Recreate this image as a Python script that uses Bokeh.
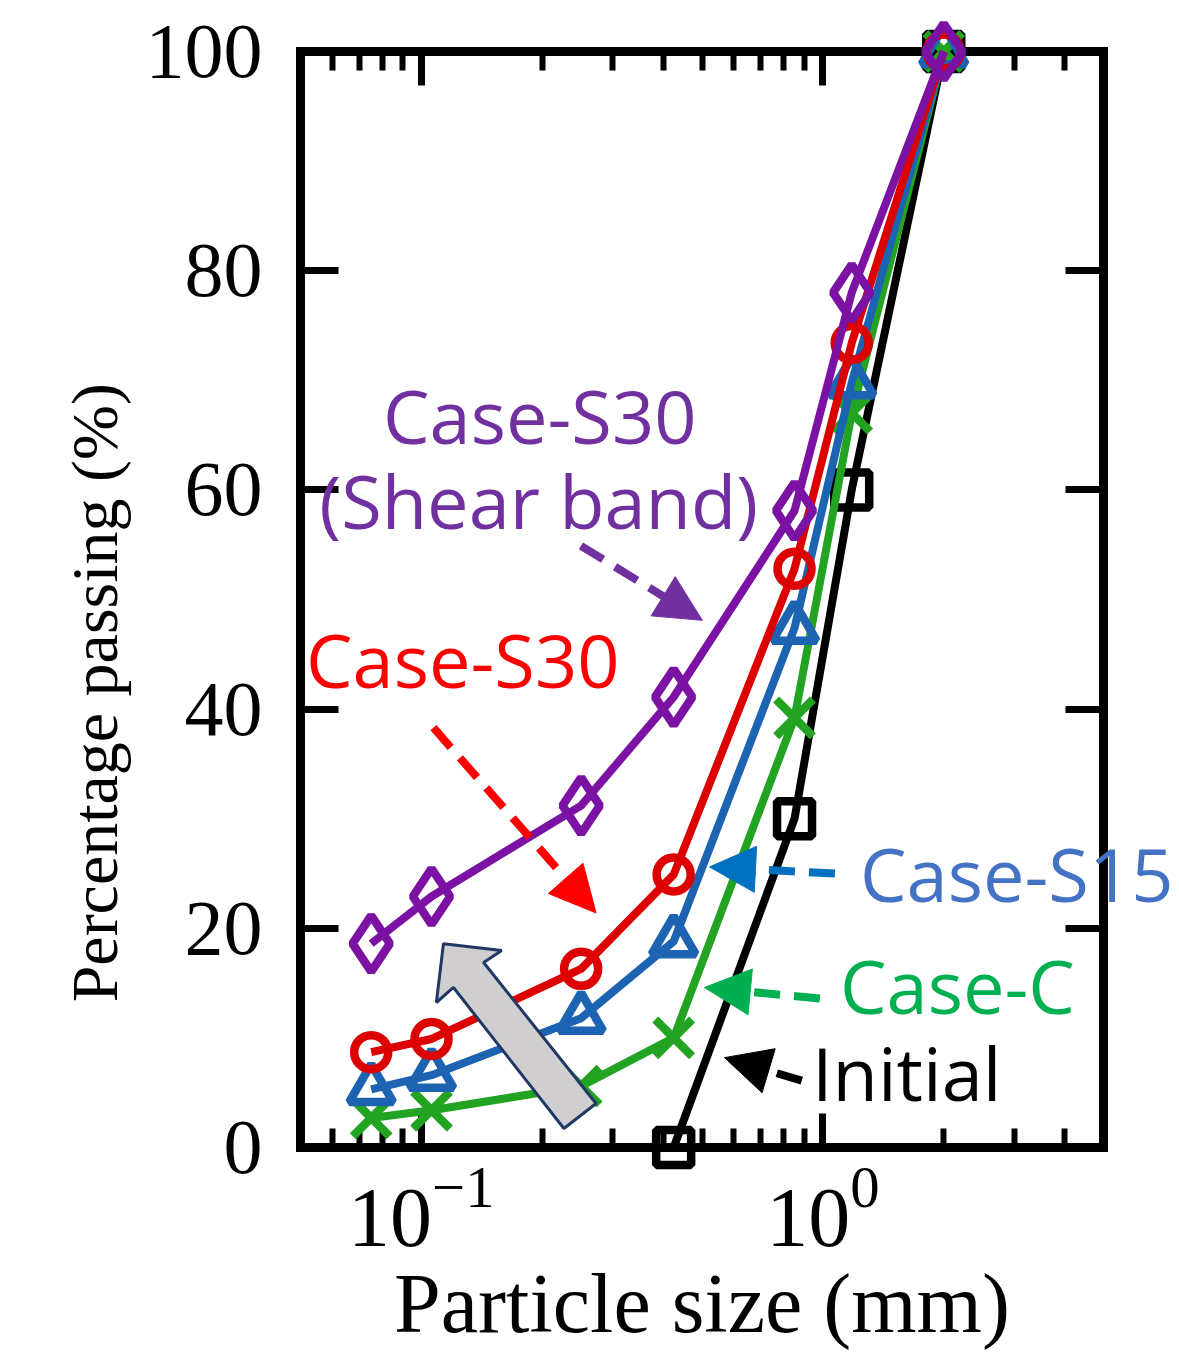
import numpy as np
from bokeh.plotting import figure
from bokeh.models import (LinearAxis, FixedTicker, Range1d,
                          Arrow, NormalHead, CustomJSTickFormatter)
from bokeh.core.properties import value
from bokeh.embed import file_html
from bokeh.resources import INLINE

# ---------------- data ----------------
sizes = [0.075, 0.106, 0.25, 0.425, 0.85, 1.18, 2.0]
initial_sizes = [0.425, 0.85, 1.18, 2.0]
initial = [0.0, 30.0, 60.0, 100.0]
case_c = [2.7, 3.4, 5.6, 10.0, 39.2, 67.0, 100.0]
case_s15 = [5.3, 6.6, 11.8, 18.8, 47.4, 69.8, 100.0]
case_s30 = [8.7, 9.9, 16.3, 24.9, 52.8, 73.4, 100.0]
case_s30_band = [18.6, 22.9, 31.2, 41.1, 58.1, 78.0, 100.0]

x_major_ticks = [0.1, 1.0]
x_minor_ticks = [0.05, 0.06, 0.07, 0.08, 0.09, 0.2, 0.3, 0.4, 0.5, 0.6, 0.7,
                 0.8, 0.9, 2.0, 3.0, 4.0, 5.0]
y_ticks = [0, 20, 40, 60, 80, 100]

# ---------------- figure ----------------
p = figure(width=1179, height=1357, x_axis_type="log",
           x_range=Range1d(0.05, 5), y_range=Range1d(0, 100),
           output_backend="svg", toolbar_location=None,
           min_border_left=300, min_border_right=76,
           min_border_top=51, min_border_bottom=210)
p.xgrid.visible = False
p.ygrid.visible = False
p.outline_line_color = None
p.background_fill_color = "white"
p.border_fill_color = "white"


def style_axis(ax, major_in, minor_in, standoff, fsize):
    ax.axis_line_width = 9
    ax.axis_line_color = "black"
    ax.axis_line_cap = "square"
    ax.major_tick_in = major_in
    ax.major_tick_out = 0
    ax.minor_tick_in = minor_in
    ax.minor_tick_out = 0
    ax.major_tick_line_width = 7
    ax.minor_tick_line_width = 6
    ax.major_tick_line_color = "black"
    ax.minor_tick_line_color = "black" if minor_in else None
    ax.major_label_text_font = "Liberation Serif"
    ax.major_label_text_color = "black"
    ax.major_label_standoff = standoff
    ax.major_label_text_font_size = fsize


xb = p.xaxis[0]
xb.ticker = FixedTicker(ticks=x_major_ticks, minor_ticks=x_minor_ticks)
style_axis(xb, 34, 19, 20, "84px")

yl = p.yaxis[0]
yl.ticker = FixedTicker(ticks=y_ticks)
style_axis(yl, 38, 0, 38, "78px")

blank = CustomJSTickFormatter(code="return ''")
xt = LinearAxis(ticker=FixedTicker(ticks=x_major_ticks, minor_ticks=x_minor_ticks),
                formatter=blank)
style_axis(xt, 34, 19, 0, "10px")
p.add_layout(xt, "above")

yr = LinearAxis(ticker=FixedTicker(ticks=y_ticks), formatter=blank)
style_axis(yr, 38, 0, 0, "10px")
p.add_layout(yr, "right")

# ---------------- series ----------------
LW = 8
MW = 8.5
series = [
    (initial_sizes, initial, "black", "square", 35),
    (sizes, case_c, "#22A322", "x", 52),
    (sizes, case_s15, "#1C63B2", "triangle", 44),
    (sizes, case_s30, "#DC0000", "circle", 34),
    (sizes, case_s30_band, "#7C12A4", "diamond", 56),
]
for xs, ys, col, mk, sz in series:
    p.line(xs, ys, line_color=col, line_width=LW, level="annotation")
    p.scatter(xs, ys, marker=mk, size=sz, fill_color=None, line_color=col,
              line_width=MW, level="annotation")

# ---------------- grey block arrow ----------------
block_x = [0.1135, 0.1585, 0.1429, 0.2723, 0.2265, 0.1202, 0.109]
block_y = [18.6, 17.97, 16.88, 4.01, 1.73, 14.6, 13.23]
p.patch(block_x, block_y, fill_color="#D0CECE", line_color="#1F3864",
        line_width=3, level="annotation")

# ---------------- dashed arrows ----------------
arrows = [
    ((0.2497, 54.9), (0.501, 48.1), "#7030A0"),
    ((0.1072, 38.3), (0.2723, 21.4), "#FF0000"),
    ((1.0715, 25.0), (0.522, 25.6), "#0070C0"),
    ((0.983, 13.6), (0.507, 14.6), "#00B050"),
    ((0.886, 6.1), (0.569, 8.2), "black"),
]
for (x0, y0), (x1, y1), col in arrows:
    p.add_layout(Arrow(x_start=x0, y_start=y0, x_end=x1, y_end=y1,
                       line_color=col, line_width=8, line_dash="26 14",
                       end=NormalHead(size=46, fill_color=col, line_color=col,
                                      line_width=1)))

# ---------------- text annotations ----------------
texts = [
    ("Case-S30", 0.1972, 66.8, "#7030A0", "center"),
    ("(Shear band)", 0.196, 59.0, "#7030A0", "center"),
    ("Case-S30", 0.0516, 44.5, "#FF0000", "left"),
    ("Case-S15", 1.237, 25.0, "#4472C4", "left"),
    ("Case-C", 1.103, 14.8, "#00B050", "left"),
    ("Initial", 0.939, 6.8, "black", "left"),
]
for t, x, y, col, al in texts:
    p.text(x=[x], y=[y], text=[t], text_font=value("Open Sans"),
           text_font_size=value("74px"), text_color=col,
           text_align=al, text_baseline="alphabetic", level="annotation")

# axis titles
p.text(x=[0.5], y=[-14.2], text=["Particle size (mm)"],
       text_font=value("Liberation Serif"), text_font_size=value("84px"),
       text_color="black", text_align="center", text_baseline="alphabetic",
       level="annotation")
p.text(x=[0.0153], y=[41.5], text=["Percentage passing (%)"],
       text_font=value("Liberation Serif"), text_font_size=value("66px"),
       text_color="black", text_align="center", text_baseline="middle",
       angle=np.pi / 2, level="annotation")

open("out.html", "w").write(file_html(p, INLINE))
